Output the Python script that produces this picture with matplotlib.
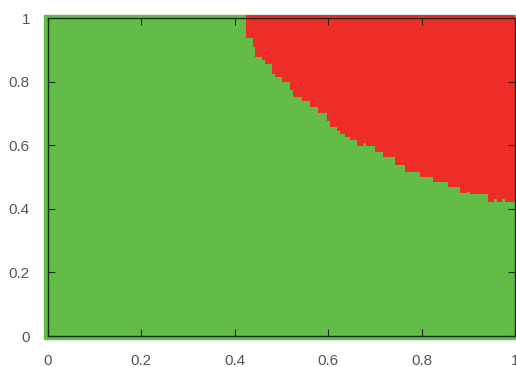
import matplotlib.pyplot as plt
from matplotlib.patches import Rectangle

# stepped boundary between the two regions (x start of each step, y level)
edge_x = [0.425, 0.440, 0.443, 0.458, 0.465, 0.479, 0.486, 0.500, 0.518, 0.525,
          0.543, 0.561, 0.579, 0.597, 0.604, 0.618, 0.625, 0.636, 0.647, 0.661,
          0.675, 0.682, 0.700, 0.718, 0.743, 0.764, 0.797, 0.825, 0.857, 0.882,
          0.897, 0.904, 0.943, 0.954, 0.961, 0.972, 0.979, 1.0]
edge_y = [0.936, 0.910, 0.878, 0.868, 0.854, 0.823, 0.816, 0.800, 0.774, 0.753,
          0.739, 0.721, 0.700, 0.676, 0.658, 0.646, 0.635, 0.627, 0.616, 0.598,
          0.608, 0.597, 0.580, 0.564, 0.538, 0.517, 0.501, 0.485, 0.470, 0.449,
          0.454, 0.447, 0.422, 0.430, 0.422, 0.430, 0.422, 0.422]
ticks = [0, 0.2, 0.4, 0.6, 0.8, 1]
tick_labels = ['0', '0.2', '0.4', '0.6', '0.8', '1']

green = '#64bc48'
red = '#ee2c28'

fig = plt.figure(figsize=(5.16, 3.67), dpi=100)
ax = fig.add_axes([48 / 516, 1 - 336 / 367, 467 / 516, 318 / 367])
ax.set_xlim(0, 1)
ax.set_ylim(0, 1)

ax.add_patch(Rectangle((-0.008, -0.01), 1.008, 1.02, color=green,
                       clip_on=False, zorder=0))
ax.fill_between(edge_x, edge_y, 1.01, step='post', color=red, lw=0,
                clip_on=False, zorder=1)

ax.set_xticks(ticks)
ax.set_xticklabels(tick_labels)
ax.set_yticks(ticks)
ax.set_yticklabels(tick_labels)
ax.tick_params(direction='in', length=5, width=0.8, color='#1d2b1d',
               top=True, right=True, labelsize=11, labelcolor='#555555', pad=13)
for lab in ax.get_xticklabels() + ax.get_yticklabels():
    lab.set_family('Liberation Sans')
for s in ax.spines.values():
    s.set_color('#1d2b1d')
    s.set_linewidth(1)
    s.set_zorder(3)

fig.savefig('out.png', dpi=100)
